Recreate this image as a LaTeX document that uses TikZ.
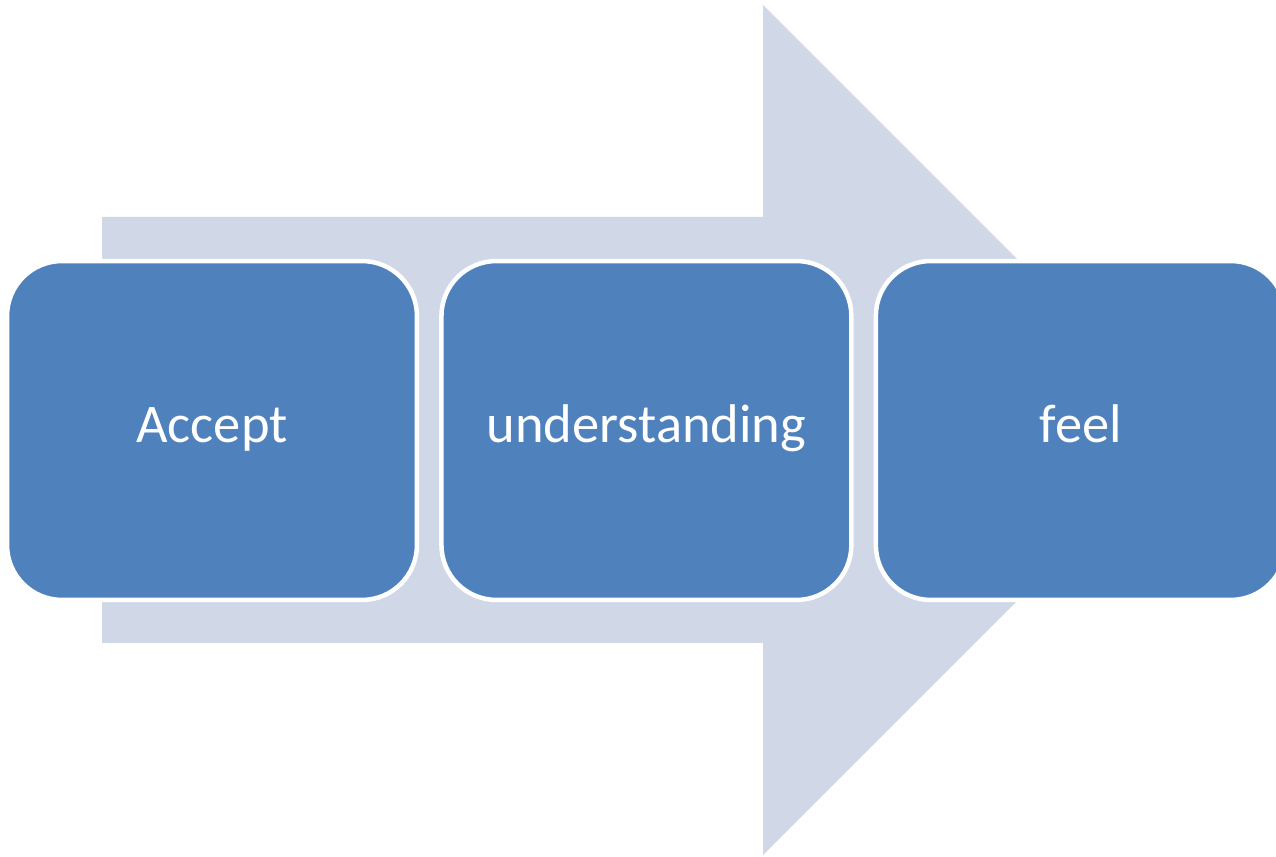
\documentclass[tikz,border=0pt]{standalone}
\usepackage{fontspec}
\setmainfont{Carlito}
\usepackage{xcolor}
\usetikzlibrary{positioning}
\definecolor{stepblue}{HTML}{4F81BD}
\definecolor{arrowgray}{HTML}{D0D8E8}
\tikzset{stepbox/.style = {rectangle,rounded corners=1.1cm,fill=stepblue,draw=white,line width=0.09cm,
    minimum width=8.2cm,minimum height=6.78cm,text height=1cm,text depth=0.5cm,
    text=white,font=\fontsize{31}{37}\selectfont}}

\begin{document}
\begin{tikzpicture}[x=0.02cm,y=-0.02cm,node distance=0.4cm]
            \useasboundingbox (0,0) rectangle (1276,857);
            % big arrow behind the steps
            \fill[arrowgray] (102,217) -- (763,217) -- (763,5) -- (1188,430)
                -- (763,855) -- (763,643) -- (102,643) -- cycle;

            \node[stepbox] (accept) at (212,430.5) {Accept};
            \node[stepbox] (understanding) [right=of accept] {understanding};
            \node[stepbox] (feel) [right=of understanding] {feel};
        \end{tikzpicture}
\end{document}
